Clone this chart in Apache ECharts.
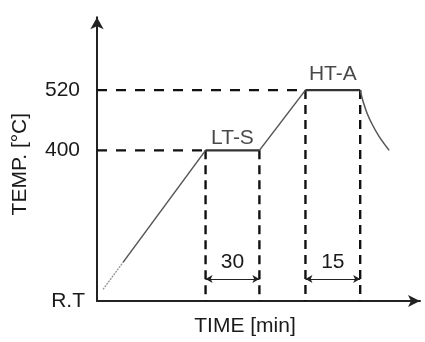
<!DOCTYPE html>
<html>
<head>
<meta charset="utf-8">
<script src="https://cdn.jsdelivr.net/npm/echarts@6/dist/echarts.min.js"></script>
<style>
  html, body { margin: 0; padding: 0; background: #fff; }
  #chart { width: 425px; height: 342px; }
</style>
</head>
<body>
<div id="chart"></div>
<script>
// Heat-treatment schedule: ramp to a low-temperature soak, ramp to a
// high-temperature anneal, then furnace cooling. Time axis is schematic.
const stageNames = ['LT-S', 'HT-A'];
const stageTemps = [400, 520];          // °C
const stageStart = [36.3, 69.7];        // schematic time units
const stageEnd = [54.3, 88];
const holdMinutes = [30, 15];
const rampStart = [2, 123];             // just above room temperature
const rampFaintEnd = [8.7, 177];
const coolTime = [88, 88.4, 89, 90.3, 92, 94.3, 97.7];
const coolTemp = [520, 510, 497, 474, 452, 428, 400];
const tempTicks = [100, 400, 520];
const tempTickLabels = ['R.T', '400', '520'];

const TIME_MAX = 108, TEMP_MIN = 100, TEMP_MAX = 665;
const DIM_TEMP = 144;                   // height of the hold-time dimension arrows
const FONT = 'Liberation Sans, Arial, sans-serif';
const INK = '#1a1a1a';

const series = [];

// guide lines: dashed horizontals from the axis, dashed verticals down to the time axis
const dash = (data, pattern) => ({
  type: 'line', data, symbol: 'none', silent: true, z: 1,
  lineStyle: { color: '#111', width: 2.4, type: pattern }
});
stageTemps.forEach((t, i) => {
  series.push(dash([[0, t], [stageStart[i], t]], [10, 9]));
  series.push(dash([[stageStart[i], t], [stageStart[i], TEMP_MIN]], [9, 6]));
  series.push(dash([[stageEnd[i], t], [stageEnd[i], TEMP_MIN]], [9, 6]));
});

// faint beginning of the first ramp
series.push({
  type: 'line', data: [rampStart, rampFaintEnd], symbol: 'none', silent: true, z: 3,
  lineStyle: { color: '#9a9a9a', width: 1.4, type: [2, 1] }
});
// heating ramps
series.push({
  type: 'line', data: [rampFaintEnd, [stageStart[0], stageTemps[0]]], symbol: 'none', z: 3,
  lineStyle: { color: '#555', width: 1.5 }
});
series.push({
  type: 'line', data: [[stageEnd[0], stageTemps[0]], [stageStart[1], stageTemps[1]]], symbol: 'none', z: 3,
  lineStyle: { color: '#555', width: 1.5 }
});
// soak / anneal plateaus
stageTemps.forEach((t, i) => {
  series.push({
    type: 'line', data: [[stageStart[i], t], [stageEnd[i], t]], symbol: 'none', z: 4,
    lineStyle: { color: '#333', width: 2.2 }
  });
});
// cooling curve
series.push({
  type: 'line', smooth: 0.4, symbol: 'none', z: 3,
  data: coolTime.map((x, i) => [x, coolTemp[i]]),
  lineStyle: { color: '#555', width: 1.5 }
});

// stage names above the plateaus
const stageLabelGap = [1.5, 4.5];
series.push({
  type: 'scatter', symbolSize: 1, itemStyle: { color: 'rgba(0,0,0,0)' }, silent: true, z: 5,
  data: stageNames.map((n, i) => ({
    value: [(stageStart[i] + stageEnd[i]) / 2, stageTemps[i]],
    name: n,
    label: {
      show: true, position: 'top', distance: stageLabelGap[i],
      formatter: n, color: INK, fontSize: 21, fontFamily: FONT
    }
  }))
});

// hold-time dimension arrows
series.push({
  type: 'line', data: [], symbol: 'none',
  markLine: {
    silent: true, animation: false,
    symbol: ['arrow', 'arrow'], symbolSize: [6, 7],
    lineStyle: { color: '#222', width: 1, type: 'solid' },
    label: {
      show: true, position: 'middle', distance: 6,
      color: INK, fontSize: 21, fontFamily: FONT
    },
    data: holdMinutes.map((m, i) => [
      { coord: [stageStart[i], DIM_TEMP], label: { formatter: String(m) } },
      { coord: [stageEnd[i], DIM_TEMP] }
    ])
  }
});

const chart = echarts.init(document.getElementById('chart'), null, { renderer: 'canvas' });
chart.setOption({
  animation: false,
  backgroundColor: '#fff',
  grid: { left: 97, right: 5, top: 17.3, bottom: 37.5, containLabel: false },
  xAxis: {
    type: 'value', min: 0, max: TIME_MAX,
    name: 'TIME [min]', nameLocation: 'middle', nameGap: 15,
    nameTextStyle: { color: INK, fontSize: 21, fontFamily: FONT, padding: [0, 27, 0, 0] },
    axisLine: { onZero: false, symbol: ['none', 'arrow'], symbolSize: [9, 12],
      lineStyle: { color: '#222', width: 2 } },
    axisTick: { show: false }, axisLabel: { show: false }, splitLine: { show: false }
  },
  yAxis: {
    type: 'value', min: TEMP_MIN, max: TEMP_MAX,
    name: 'TEMP. [°C]', nameLocation: 'middle', nameGap: 66,
    nameTextStyle: { color: INK, fontSize: 21, fontFamily: FONT, padding: [0, 10, 0, 0] },
    axisLine: { show: true, symbol: ['none', 'arrow'], symbolSize: [10, 12],
      lineStyle: { color: '#222', width: 2 } },
    axisTick: { show: false },
    splitLine: { show: false },
    axisLabel: {
      customValues: tempTicks, margin: 12,
      color: INK, fontSize: 21, fontFamily: FONT,
      formatter: v => {
        const s = tempTickLabels[tempTicks.indexOf(v)];
        return v === TEMP_MIN ? s : '{n|' + s + '}';
      },
      rich: { n: { padding: [0, 5, 0, 0], fontSize: 21, fontFamily: FONT, color: INK } }
    }
  },
  series
});
</script>
</body>
</html>
